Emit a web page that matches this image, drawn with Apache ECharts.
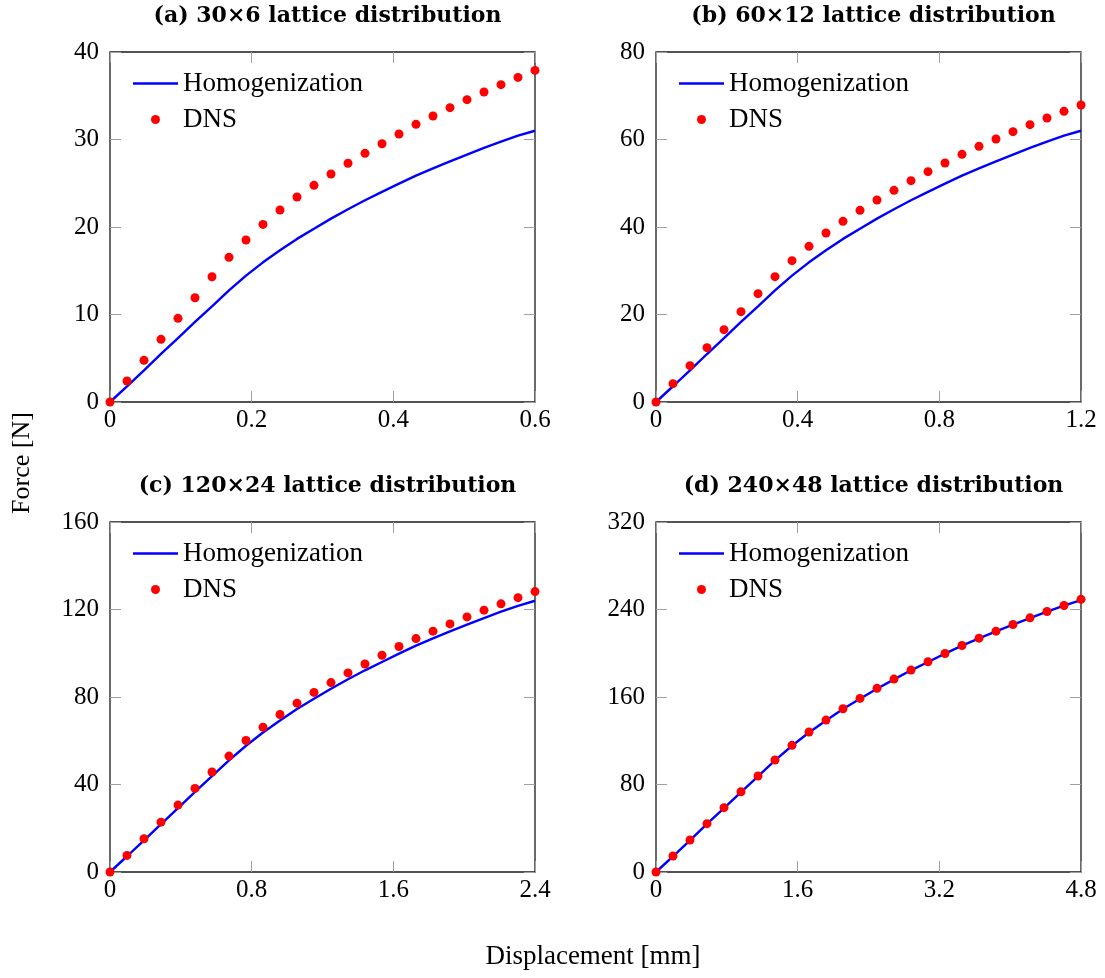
<!DOCTYPE html>
<html>
<head>
<meta charset="utf-8">
<title>Force-displacement</title>
<script src="https://cdn.jsdelivr.net/npm/echarts@6/dist/echarts.min.js"></script>
<style>
  html, body { margin: 0; padding: 0; background: #fff; }
  #main { width: 1105px; height: 978px; }
</style>
</head>
<body>
<div id="main"></div>
<script>
// displacement [mm] for each lattice
const dispA = [0, 0.024, 0.048, 0.072, 0.096, 0.12, 0.144, 0.168, 0.192, 0.216, 0.24, 0.264, 0.288, 0.312, 0.336, 0.36, 0.384, 0.408, 0.432, 0.456, 0.48, 0.504, 0.528, 0.552, 0.576, 0.6];
const dispB = [0, 0.048, 0.096, 0.144, 0.192, 0.24, 0.288, 0.336, 0.384, 0.432, 0.48, 0.528, 0.576, 0.624, 0.672, 0.72, 0.768, 0.816, 0.864, 0.912, 0.96, 1.008, 1.056, 1.104, 1.152, 1.2];
const dispC = [0, 0.096, 0.192, 0.288, 0.384, 0.48, 0.576, 0.672, 0.768, 0.864, 0.96, 1.056, 1.152, 1.248, 1.344, 1.44, 1.536, 1.632, 1.728, 1.824, 1.92, 2.016, 2.112, 2.208, 2.304, 2.4];
const dispD = [0, 0.192, 0.384, 0.576, 0.768, 0.96, 1.152, 1.344, 1.536, 1.728, 1.92, 2.112, 2.304, 2.496, 2.688, 2.88, 3.072, 3.264, 3.456, 3.648, 3.84, 4.032, 4.224, 4.416, 4.608, 4.8];

// force [N], homogenization
const homA = [0, 1.79, 3.62, 5.49, 7.31, 9.15, 10.94, 12.76, 14.44, 15.96, 17.34, 18.64, 19.81, 20.96, 22.03, 23.06, 24.01, 24.96, 25.88, 26.71, 27.51, 28.28, 29.04, 29.76, 30.45, 31.0];
const homB = [0, 3.6, 7.25, 10.97, 14.62, 18.3, 21.88, 25.52, 28.88, 31.92, 34.68, 37.28, 39.62, 41.92, 44.06, 46.12, 48.02, 49.92, 51.76, 53.42, 55.02, 56.56, 58.08, 59.52, 60.9, 62.0];
const homC = [0, 7.2, 14.5, 21.9, 29.2, 36.6, 43.8, 51.0, 57.7, 63.8, 69.3, 74.5, 79.2, 83.8, 88.1, 92.2, 96.0, 99.8, 103.5, 106.8, 110.0, 113.1, 116.1, 119.0, 121.7, 124.0];
const homD = [0, 14.3, 29.0, 43.9, 58.5, 73.1, 87.5, 102.0, 115.4, 127.6, 138.6, 149.0, 158.4, 167.6, 176.1, 184.4, 192.0, 199.6, 206.9, 213.6, 220.0, 226.1, 232.2, 238.0, 243.5, 248.6];

// force [N], DNS
const dnsA = [0, 2.4, 4.76, 7.16, 9.56, 11.92, 14.32, 16.53, 18.51, 20.3, 21.94, 23.43, 24.76, 26.06, 27.28, 28.42, 29.52, 30.63, 31.73, 32.69, 33.64, 34.55, 35.43, 36.27, 37.1, 37.9];
const dnsB = [0, 4.19, 8.3, 12.42, 16.53, 20.65, 24.76, 28.65, 32.3, 35.58, 38.63, 41.3, 43.81, 46.17, 48.38, 50.59, 52.65, 54.63, 56.61, 58.44, 60.11, 61.79, 63.39, 64.91, 66.44, 67.89];
const dnsC = [0, 7.6, 15.2, 22.8, 30.6, 38.2, 45.7, 53.0, 60.1, 66.2, 72.0, 77.2, 82.1, 86.6, 91.0, 95.1, 99.1, 103.1, 106.7, 110.1, 113.4, 116.6, 119.7, 122.6, 125.4, 128.2];
const dnsD = [0, 14.6, 29.3, 44.2, 58.8, 73.4, 87.8, 102.4, 115.8, 128.0, 138.9, 149.3, 158.7, 167.9, 176.4, 184.6, 192.2, 199.8, 207.1, 213.8, 220.2, 226.3, 232.4, 238.2, 243.7, 249.3];

const titles = ['(a) 30×6 lattice distribution', '(b) 60×12 lattice distribution',
                '(c) 120×24 lattice distribution', '(d) 240×48 lattice distribution'];
const xMax = [0.6, 1.2, 2.4, 4.8];
const xStep = [0.2, 0.4, 0.8, 1.6];
const yMax = [40, 80, 160, 320];
const yStep = [10, 20, 40, 80];

const disp = [dispA, dispB, dispC, dispD];
const hom = [homA, homB, homC, homD];
const dns = [dnsA, dnsB, dnsC, dnsD];

const serif = 'Liberation Serif';
const lefts = [110, 656, 110, 656];
const tops = [52, 52, 522, 522];
const W = 425, H = 350;

let myChart = echarts.init(document.getElementById('main'));

// fresh objects for every axis
function tick() {
  return { show: true, inside: true, length: 11, lineStyle: { color: '#a0a0a0', width: 1 } };
}
function lab(margin) {
  return { show: true, margin: margin, fontFamily: serif, fontSize: 25, color: '#000' };
}
// onZero off, otherwise the top/right copies jump onto the zero line
function noLine() {
  return { show: false, onZero: false };
}

let grid = [], xAxis = [], yAxis = [], series = [], title = [], legend = [];
for (let i = 0; i < 4; i++) {
  grid.push({
    left: lefts[i], top: tops[i], width: W, height: H,
    show: true, borderColor: '#1a1a1a', borderWidth: 1.3, backgroundColor: 'transparent'
  });
  title.push({
    text: titles[i],
    left: lefts[i] + W / 2, top: tops[i] - 52, textAlign: 'center',
    textStyle: { fontFamily: 'DejaVu Serif', fontWeight: 'bold', fontSize: 22, color: '#000' }
  });
  legend.push({
    orient: 'vertical', left: lefts[i] + 23, top: tops[i] + 18, padding: 0,
    itemWidth: 45, itemHeight: 9, itemGap: 9,
    data: [
      { name: 'Homogenization', icon: 'path://M0 0H45V2.4H0Z' },
      { name: 'DNS', icon: 'circle' }
    ],
    textStyle: { fontFamily: serif, fontSize: 27, color: '#000', lineHeight: 26 }
  });
  // bottom / left axes carry the labels, top / right copies only mirror the ticks
  xAxis.push({
    type: 'value', gridIndex: i, position: 'bottom', min: 0, max: xMax[i], interval: xStep[i],
    axisLine: noLine(), axisTick: tick(), splitLine: { show: false }, axisLabel: lab(6)
  });
  xAxis.push({
    type: 'value', gridIndex: i, position: 'top', min: 0, max: xMax[i], interval: xStep[i],
    axisLine: noLine(), axisTick: tick(), splitLine: { show: false }, axisLabel: { show: false }
  });
  yAxis.push({
    type: 'value', gridIndex: i, position: 'left', min: 0, max: yMax[i], interval: yStep[i],
    axisLine: noLine(), axisTick: tick(), splitLine: { show: false }, axisLabel: lab(11)
  });
  yAxis.push({
    type: 'value', gridIndex: i, position: 'right', min: 0, max: yMax[i], interval: yStep[i],
    axisLine: noLine(), axisTick: tick(), splitLine: { show: false }, axisLabel: { show: false }
  });
  series.push({
    name: 'Homogenization', type: 'line', xAxisIndex: 2 * i, yAxisIndex: 2 * i,
    data: disp[i].map((x, k) => [x, hom[i][k]]),
    symbol: 'none', color: '#0000ff', lineStyle: { color: '#0000ff', width: 2.4 },
    animation: false, z: 2
  });
  series.push({
    name: 'DNS', type: 'scatter', xAxisIndex: 2 * i, yAxisIndex: 2 * i,
    data: disp[i].map((x, k) => [x, dns[i][k]]),
    symbol: 'circle', symbolSize: 9, color: '#ff0000', itemStyle: { color: '#ff0000', opacity: 1 },
    clip: false, animation: false, z: 3
  });
}

let option = {
  backgroundColor: '#fff',
  animation: false,
  title: title,
  legend: legend,
  grid: grid,
  xAxis: xAxis,
  yAxis: yAxis,
  series: series,
  graphic: [
    {
      type: 'text', x: 22, y: 463, rotation: Math.PI / 2,
      style: { text: 'Force [N]', font: '26px "Liberation Serif"', fill: '#000', align: 'center', verticalAlign: 'middle' }
    },
    {
      type: 'text', x: 593, y: 957,
      style: { text: 'Displacement [mm]', font: '27px "Liberation Serif"', fill: '#000', align: 'center', verticalAlign: 'middle' }
    }
  ]
};
myChart.setOption(option);
</script>
</body>
</html>
